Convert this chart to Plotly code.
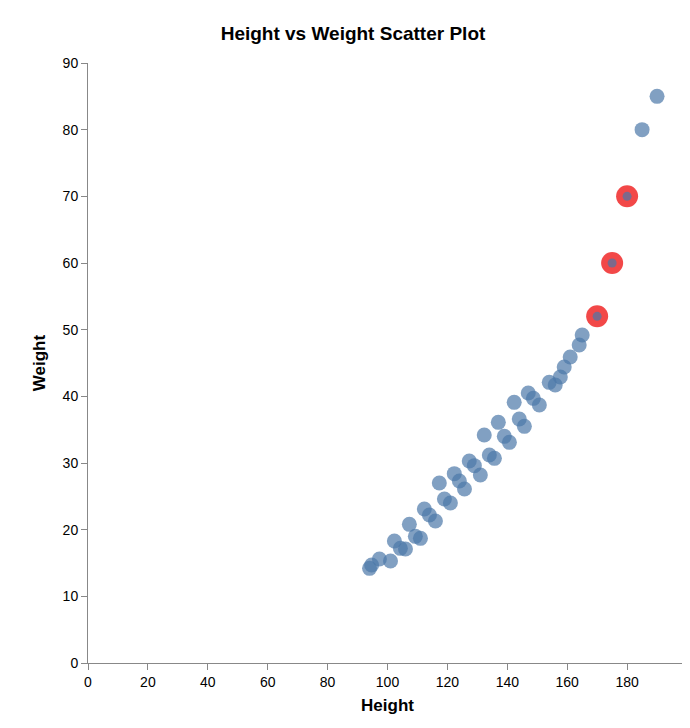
import plotly.graph_objects as go

height = [94, 94.7, 97.3, 101, 102.3, 104.3, 106, 107.3, 109.3, 111, 112.3, 114, 116,
          117.3, 119, 121, 122.3, 124, 125.7, 127.3, 129, 131, 132.3, 134, 135.7, 137,
          139, 140.7, 142.3, 144, 145.7, 147, 148.7, 150.7, 154, 156, 157.7, 159, 161,
          164, 165, 170, 175, 180, 185, 190]
weight = [14.2, 14.7, 15.6, 15.3, 18.3, 17.2, 17.1, 20.8, 19.0, 18.7, 23.1, 22.2, 21.3,
          27.0, 24.6, 24.0, 28.4, 27.3, 26.1, 30.3, 29.6, 28.2, 34.2, 31.2, 30.7, 36.1,
          34.0, 33.1, 39.1, 36.6, 35.5, 40.5, 39.7, 38.7, 42.1, 41.7, 42.9, 44.4, 45.9,
          47.7, 49.2, 52, 60, 70, 80, 85]
hl_height = [170, 175, 180]
hl_weight = [52, 60, 70]

sizes = [9 if h in hl_height else 15 for h in height]

font = "Liberation Sans, Arial, sans-serif"
fig = go.Figure()
fig.add_trace(go.Scatter(x=hl_height, y=hl_weight, mode='markers',
                         marker=dict(size=22, color='rgba(240,40,40,0.85)', line=dict(width=0)),
                         hoverinfo='skip'))
fig.add_trace(go.Scatter(x=height, y=weight, mode='markers',
                         marker=dict(size=sizes, color='#4c78a8', opacity=0.7, line=dict(width=0))))

axis = dict(showgrid=False, zeroline=False, showline=True, linecolor='#888', linewidth=1,
            automargin=False,
            ticks='outside', tickcolor='#888', ticklen=6, tickfont=dict(size=14, color='black'),
            title_font=dict(size=17, color='black', family=font))
fig.update_layout(
    width=690, height=728, showlegend=False, plot_bgcolor='white', paper_bgcolor='white',
    font=dict(family=font, color='black'),
    margin=dict(l=80, r=11, t=55, b=73),
    title=dict(text='<b>Height vs Weight Scatter Plot</b>', x=0.5, xanchor='center',
               y=0.975, font=dict(size=19, color='black')),
    xaxis=dict(axis, range=[0, 200], dtick=20, title=dict(text='<b>Height</b>', standoff=10)),
    yaxis=dict(axis, range=[0, 90], dtick=10, title=dict(text='<b>Weight</b>', standoff=12)),
)
fig.write_html("out.html")
